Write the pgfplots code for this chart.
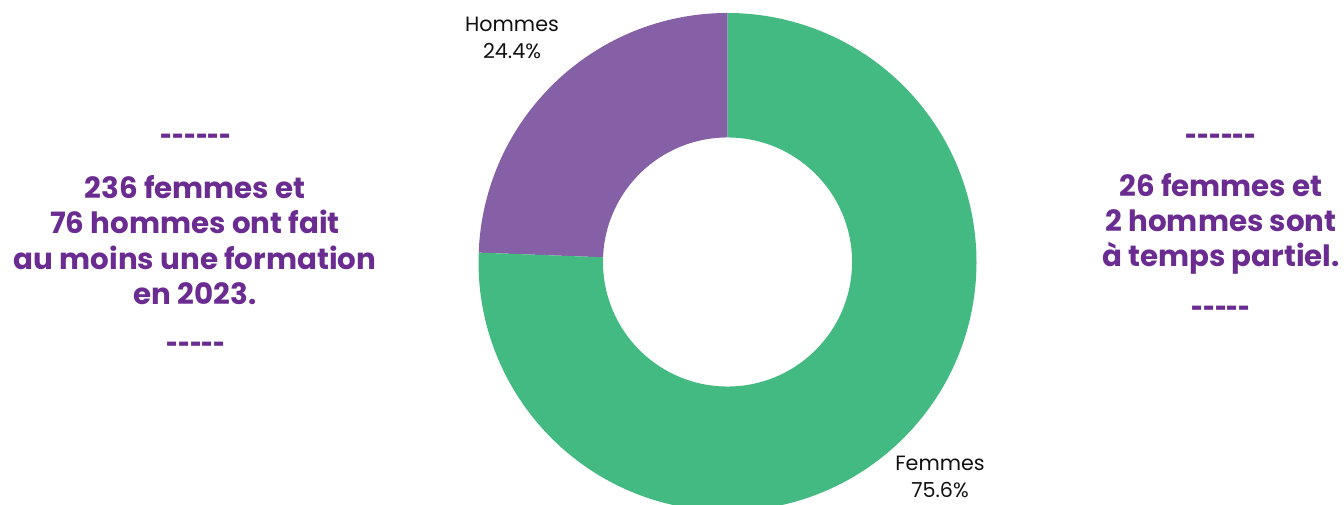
\documentclass[border=0pt]{standalone}
\usepackage{fontspec}
\setmainfont{Poppins}
\usepackage{graphicx}
\usepackage{pgfplots}
\usepackage{pgfplotstable}
\pgfplotsset{compat=1.18}
\definecolor{fgreen}{HTML}{43BA81}
\definecolor{hpurple}{HTML}{8660A7}
\definecolor{tpurple}{HTML}{6A2C91}
\definecolor{lblack}{HTML}{111111}
\pgfplotstableread{
genre valeur
Femmes 75.6
Hommes 24.4
}\donnees
\newcommand{\sixd}{\scalebox{0.7}[1]{{-}{-}{-}{-}{-}{-}}}
\newcommand{\fived}{\scalebox{0.7}[1]{{-}{-}{-}{-}{-}}}
\begin{document}
\begin{tikzpicture}
\pgfplotstablegetelem{0}{valeur}\of\donnees \let\vF\pgfplotsretval
\pgfplotstablegetelem{1}{valeur}\of\donnees \let\vH\pgfplotsretval
\pgfmathsetmacro{\aH}{90+3.6*\vH}
\pgfmathsetmacro{\aHo}{\aH+180}
\def\Ro{186.75pt}
\def\Ri{93.4pt}
\def\Rd{93.35pt}
\path[use as bounding box] (0,0) rectangle (1008pt,378pt);
\clip (0,0) rectangle (1008pt,378pt);
\begin{axis}[at={(0,0)},anchor=south west,scale only axis,width=1008pt,height=378pt,
  xmin=0,xmax=1344,ymin=0,ymax=504,hide axis,clip=false]
% Hommes wedge
\fill[hpurple] (axis cs:727.5,242) ++(90:\Ro) arc[start angle=90,end angle=\aH,radius=\Ro]
  -- ++(\aHo:\Rd) arc[start angle=\aH,end angle=90,radius=\Ri] -- cycle;
% Femmes wedge
\fill[fgreen] (axis cs:727.5,242) ++(\aH:\Ro) arc[start angle=\aH,end angle=450,radius=\Ro]
  -- ++(270:\Rd) arc[start angle=450,end angle=\aH,radius=\Ri] -- cycle;
% labels
\node[font=\fontsize{15.5pt}{20pt}\selectfont,text=lblack,align=center] at (axis cs:512,466) {Hommes\\24.4\%};
\node[font=\fontsize{15.5pt}{20pt}\selectfont,text=lblack,align=center] at (axis cs:940,27) {Femmes\\75.6\%};
% side texts
\begin{scope}[every node/.style={text=tpurple,font=\bfseries\fontsize{22pt}{26.5pt}\selectfont,align=center}]
\node at (axis cs:196,364) {\sixd};
\node at (axis cs:195,264) {236 femmes et\\76 hommes ont fait\\au moins une formation\\en 2023.};
\node at (axis cs:196,156) {\fived};
\node at (axis cs:1221,364) {\sixd};
\node at (axis cs:1221,280) {26 femmes et\\2 hommes sont\\à temps partiel.};
\node at (axis cs:1221,192) {\fived};
\end{scope}
\end{axis}
\end{tikzpicture}
\end{document}
